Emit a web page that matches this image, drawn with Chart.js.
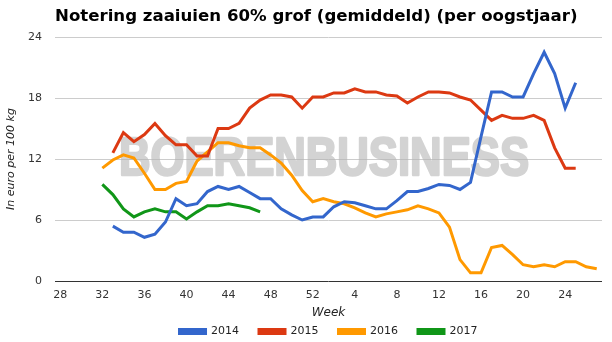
<!DOCTYPE html>
<html>
<head>
<meta charset="utf-8">
<script src="https://cdn.jsdelivr.net/npm/chart.js@4/dist/chart.umd.min.js"></script>
<style>
  html, body { margin: 0; padding: 0; background: #fff; }
  #wrap { width: 612px; height: 342px; }
</style>
</head>
<body>
<div id="wrap"><canvas id="myChart" width="612" height="342"></canvas></div>
<script>
const weeks = [28, 29, 30, 31, 32, 33, 34, 35, 36, 37, 38, 39, 40, 41, 42, 43, 44, 45, 46, 47, 48, 49, 50, 51, 52,
               1, 2, 3, 4, 5, 6, 7, 8, 9, 10, 11, 12, 13, 14, 15, 16, 17, 18, 19, 20, 21, 22, 23, 24, 25, 26, 27];

const y2014 = [null, null, null, null, null,
  5.4, 4.8, 4.8, 4.3, 4.6, 5.8, 8.1, 7.4, 7.6, 8.8, 9.3, 9.0, 9.3, 8.7, 8.1, 8.1, 7.1, 6.5, 6.0, 6.3,
  6.3, 7.3, 7.8, 7.7, 7.4, 7.1, 7.1, 7.9, 8.8, 8.8, 9.1, 9.5, 9.4, 9.0, 9.7, 14.2, 18.6, 18.6, 18.1, 18.1,
  20.4, 22.5, 20.4, 17.0, 19.5, null, null];

const y2015 = [null, null, null, null, null,
  12.6, 14.6, 13.7, 14.4, 15.5, 14.3, 13.4, 13.4, 12.3, 12.3, 15.0, 15.0, 15.5, 17.0, 17.8, 18.3, 18.3, 18.1, 17.0, 18.1,
  18.1, 18.5, 18.5, 18.9, 18.6, 18.6, 18.3, 18.2, 17.5, 18.1, 18.6, 18.6, 18.5, 18.1, 17.8, 16.8, 15.8, 16.3, 16.0, 16.0,
  16.3, 15.8, 13.1, 11.1, 11.1, null, null];

const y2016 = [null, null, null, null,
  11.1, 11.9, 12.4, 12.1, 10.6, 9.0, 9.0, 9.6, 9.8, 11.8, 12.7, 13.6, 13.6, 13.3, 13.1, 13.1, 12.4, 11.6, 10.4, 8.9, 7.8,
  8.1, 7.8, 7.6, 7.2, 6.7, 6.3, 6.6, 6.8, 7.0, 7.4, 7.1, 6.7, 5.3, 2.1, 0.8, 0.8, 3.3, 3.5, 2.6, 1.6,
  1.4, 1.6, 1.4, 1.9, 1.9, 1.4, 1.2];

const y2017 = [null, null, null, null,
  9.5, 8.5, 7.1, 6.3, 6.8, 7.1, 6.8, 6.8, 6.1, 6.8, 7.4, 7.4, 7.6, 7.4, 7.2, 6.8];

const years = ['2014', '2015', '2016', '2017'];
const colors = ['#3366cc', '#dc3912', '#ff9900', '#109618'];
const yTicks = [0, 6, 12, 18, 24];

const titleText = 'Notering zaaiuien 60% grof (gemiddeld) (per oogstjaar)';
const markText = 'BOERENBUSINESS';
const baseFont = "'DejaVu Sans', Verdana, sans-serif";

// title above the plot and the grey brand name behind the lines
const decorations = {
  id: 'decorations',
  afterLayout(chart) {
    // centre the legend under the plot area instead of the whole canvas
    chart.legend.left = chart.chartArea.left;
    chart.legend.right = chart.chartArea.right;
  },
  beforeDatasetsDraw(chart) {
    const off = document.createElement('canvas');
    off.width = chart.width;
    off.height = chart.height;
    const o = off.getContext('2d');
    o.font = "bold 53px 'Liberation Sans', Arial, sans-serif";
    o.fillStyle = o.strokeStyle = '#b4b4b4';
    o.lineWidth = 2.5;
    o.lineJoin = 'round';
    const w = o.measureText(markText).width;
    o.translate(119, 175);
    o.scale(410 / w, 1);
    o.fillText(markText, 0, 0);
    o.strokeText(markText, 0, 0);

    const c = chart.ctx;
    c.save();
    c.globalAlpha = 0.58;
    c.drawImage(off, 0, 0);
    c.restore();
  },
  afterDraw(chart) {
    const c = chart.ctx;
    c.save();
    c.font = 'bold 16.6px ' + baseFont;
    c.fillStyle = '#000';
    c.textBaseline = 'middle';
    c.fillText(titleText, 55, 17);
    c.restore();
  }
};

const series = [y2014, y2015, y2016, y2017];

const ctx = document.getElementById('myChart').getContext('2d');

var myChart = new Chart(ctx, {
    type: 'line',
    data: {
        labels: weeks,
        datasets: series.map((d, i) => ({
            label: years[i],
            data: d,
            borderColor: colors[i],
            backgroundColor: colors[i],
            borderWidth: 3,
            pointRadius: 0,
            tension: 0,
            spanGaps: false
        }))
    },
    options: {
        responsive: false,
        animation: false,
        layout: { padding: { top: 37, right: 10, left: 0, bottom: 0 } },
        plugins: {
            title: { display: false },
            tooltip: { enabled: false },
            legend: {
                position: 'bottom',
                maxHeight: 36,
                labels: {
                    boxWidth: 26,
                    boxHeight: 4,
                    padding: 20,
                    color: '#222',
                    font: { family: baseFont, size: 11 }
                }
            }
        },
        scales: {
            x: {
                type: 'category',
                offset: true,
                grid: { display: false, drawTicks: false },
                border: { display: false },
                ticks: {
                    autoSkip: false,
                    maxRotation: 0,
                    padding: 8,
                    color: '#333',
                    font: { family: baseFont, size: 11 },
                    callback: function (val, idx) { return idx % 4 === 0 ? this.getLabelForValue(val) : null; }
                },
                title: {
                    display: true,
                    text: 'Week',
                    color: '#222',
                    padding: { top: 0, bottom: -14 },
                    font: { family: baseFont, size: 12, style: 'italic' }
                },
                afterFit: s => { s.height = 25; }
            },
            y: {
                min: 0,
                max: 24,
                afterBuildTicks: s => { s.ticks = yTicks.map(v => ({ value: v })); },
                grid: {
                    drawTicks: false,
                    color: c => c.tick && c.tick.value === 0 ? '#333' : '#cccccc',
                    lineWidth: 1
                },
                border: { display: false },
                ticks: {
                    padding: 13,
                    color: '#333',
                    font: { family: baseFont, size: 11 }
                },
                title: {
                    display: true,
                    text: 'In euro per 100 kg',
                    color: '#222',
                    padding: { top: 5, bottom: 0 },
                    font: { family: baseFont, size: 11, style: 'italic' }
                },
                afterFit: s => { s.width = 55; }
            }
        }
    },
    plugins: [decorations]
});
</script>
</body>
</html>
